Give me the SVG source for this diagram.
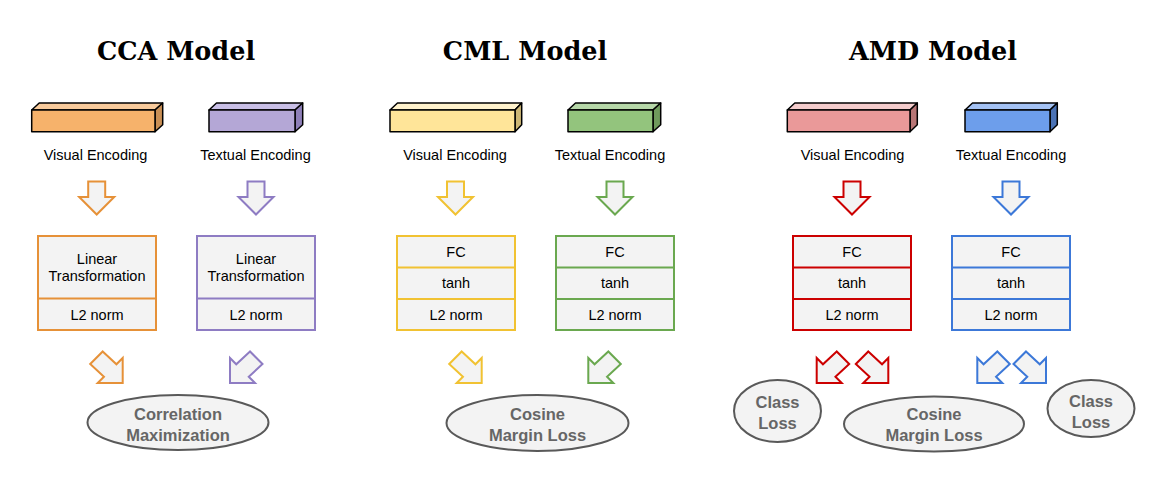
<svg xmlns="http://www.w3.org/2000/svg" xmlns:xlink="http://www.w3.org/1999/xlink" width="1154" height="493" viewBox="0 0 1154 493">
<style>
.title{font-family:"DejaVu Serif",serif;font-weight:bold;font-size:25.5px;fill:#000;text-anchor:middle}
.lbl{font-family:"Liberation Sans",Arial,sans-serif;font-size:14.5px;fill:#000;text-anchor:middle}
.loss{font-family:"Liberation Sans",Arial,sans-serif;font-size:16.5px;font-weight:bold;fill:#666;text-anchor:middle}
.bar{stroke:#000;stroke-width:1.5;stroke-linejoin:round}
.box{fill:#f3f3f3;stroke-width:2}
.arr{fill:#f3f3f3;stroke-width:2;stroke-linejoin:miter}
.ell{fill:#f3f3f3;stroke:#595959;stroke-width:2}
.or{stroke:#e69138}.pu{stroke:#8e7cc3}.ye{stroke:#f1c232}.gr{stroke:#6aa84f}.re{stroke:#cc0000}.bl{stroke:#3c78d8}
</style>
<defs>
<path id="down" d="M-8.5,-33 L8.5,-33 L8.5,-17.5 L17.5,-17.5 L0,0 L-17.5,-17.5 L-8.5,-17.5 Z"/>
<path id="diag" d="M-20,-31.5 L-6.25,-18.75 L0,-25 L0,0 L-25,0 L-18.75,-6.25 L-32.5,-19 Z"/>
</defs>

<text class="title" x="176" y="60">CCA Model</text>
<text class="title" x="525" y="60">CML Model</text>
<text class="title" x="933" y="60">AMD Model</text>

<!-- CCA -->
<g id="cca-visual-enc">
<path class="bar" fill="#f9cb9c" d="M31.7,110 L39.2,103 L162.7,103 L155,110 Z"/>
<path class="bar" fill="#c98f55" d="M155,110 L162.7,103 L162.7,124.7 L155,131.7 Z"/>
<rect class="bar" fill="#f6b26b" x="31.7" y="110" width="123.3" height="21.7"/>
<text class="lbl" x="95.5" y="160">Visual Encoding</text>
</g>
<g id="cca-textual-enc">
<path class="bar" fill="#c9bfe6" d="M209,110 L216.5,103 L302.7,103 L295,110 Z"/>
<path class="bar" fill="#8e7fb8" d="M295,110 L302.7,103 L302.7,124.7 L295,131.7 Z"/>
<rect class="bar" fill="#b4a7d6" x="209" y="110" width="86" height="21.7"/>
<text class="lbl" x="255.5" y="160">Textual Encoding</text>
</g>
<g id="cca-visual-net">
<rect class="box or" x="38" y="236" width="118" height="94"/>
<line class="or" stroke-width="2" x1="38" y1="298.5" x2="156" y2="298.5"/>
<text class="lbl" x="97" y="264">Linear</text>
<text class="lbl" x="97" y="281">Transformation</text>
<text class="lbl" x="97" y="320">L2 norm</text>
</g>
<g id="cca-textual-net">
<rect class="box pu" x="197" y="236" width="118" height="94"/>
<line class="pu" stroke-width="2" x1="197" y1="298.5" x2="315" y2="298.5"/>
<text class="lbl" x="256" y="264">Linear</text>
<text class="lbl" x="256" y="281">Transformation</text>
<text class="lbl" x="256" y="320">L2 norm</text>
</g>
<g id="cca-loss">
<ellipse class="ell" cx="178" cy="422.5" rx="90.5" ry="27.5"/>
<text class="loss" x="178" y="420">Correlation</text>
<text class="loss" x="178" y="441">Maximization</text>
</g>

<!-- CML -->
<g id="cml-visual-enc">
<path class="bar" fill="#fff2cc" d="M390,110 L397.5,103 L521.7,103 L515,110 Z"/>
<path class="bar" fill="#cdb775" d="M515,110 L521.7,103 L521.7,124.7 L515,131.7 Z"/>
<rect class="bar" fill="#ffe599" x="390" y="110" width="125" height="21.7"/>
<text class="lbl" x="455" y="160">Visual Encoding</text>
</g>
<g id="cml-textual-enc">
<path class="bar" fill="#b6d7a8" d="M568,110 L575.5,103 L660.7,103 L653,110 Z"/>
<path class="bar" fill="#6f9a5c" d="M653,110 L660.7,103 L660.7,124.7 L653,131.7 Z"/>
<rect class="bar" fill="#93c47d" x="568" y="110" width="85" height="21.7"/>
<text class="lbl" x="610" y="160">Textual Encoding</text>
</g>
<g id="cml-visual-net">
<rect class="box ye" x="397" y="236" width="118" height="94"/>
<line class="ye" stroke-width="2" x1="397" y1="267.5" x2="515" y2="267.5"/>
<line class="ye" stroke-width="2" x1="397" y1="299" x2="515" y2="299"/>
<text class="lbl" x="456" y="257">FC</text>
<text class="lbl" x="456" y="288">tanh</text>
<text class="lbl" x="456" y="320">L2 norm</text>
</g>
<g id="cml-textual-net">
<rect class="box gr" x="556" y="236" width="118" height="94"/>
<line class="gr" stroke-width="2" x1="556" y1="267.5" x2="674" y2="267.5"/>
<line class="gr" stroke-width="2" x1="556" y1="299" x2="674" y2="299"/>
<text class="lbl" x="615" y="257">FC</text>
<text class="lbl" x="615" y="288">tanh</text>
<text class="lbl" x="615" y="320">L2 norm</text>
</g>
<g id="cml-loss">
<ellipse class="ell" cx="537.5" cy="423" rx="91" ry="28"/>
<text class="loss" x="537.5" y="420">Cosine</text>
<text class="loss" x="537.5" y="441">Margin Loss</text>
</g>

<!-- AMD -->
<g id="amd-visual-enc">
<path class="bar" fill="#f4cccc" d="M787.3,110 L794.8,103 L917.3,103 L910,110 Z"/>
<path class="bar" fill="#b87575" d="M910,110 L917.3,103 L917.3,124.7 L910,131.7 Z"/>
<rect class="bar" fill="#ea9999" x="787.3" y="110" width="122.7" height="21.7"/>
<text class="lbl" x="852.5" y="160">Visual Encoding</text>
</g>
<g id="amd-textual-enc">
<path class="bar" fill="#a4c2f4" d="M965,110 L972.5,103 L1057.3,103 L1050,110 Z"/>
<path class="bar" fill="#4a72b5" d="M1050,110 L1057.3,103 L1057.3,124.7 L1050,131.7 Z"/>
<rect class="bar" fill="#6d9eeb" x="965" y="110" width="85" height="21.7"/>
<text class="lbl" x="1011" y="160">Textual Encoding</text>
</g>
<g id="amd-visual-net">
<rect class="box re" x="793" y="236" width="118" height="94"/>
<line class="re" stroke-width="2" x1="793" y1="267.5" x2="911" y2="267.5"/>
<line class="re" stroke-width="2" x1="793" y1="299" x2="911" y2="299"/>
<text class="lbl" x="852" y="257">FC</text>
<text class="lbl" x="852" y="288">tanh</text>
<text class="lbl" x="852" y="320">L2 norm</text>
</g>
<g id="amd-textual-net">
<rect class="box bl" x="952" y="236" width="118" height="94"/>
<line class="bl" stroke-width="2" x1="952" y1="267.5" x2="1070" y2="267.5"/>
<line class="bl" stroke-width="2" x1="952" y1="299" x2="1070" y2="299"/>
<text class="lbl" x="1011" y="257">FC</text>
<text class="lbl" x="1011" y="288">tanh</text>
<text class="lbl" x="1011" y="320">L2 norm</text>
</g>
<g id="amd-class-loss-v">
<ellipse class="ell" cx="777.5" cy="411" rx="43.5" ry="31"/>
<text class="loss" x="777.5" y="408">Class</text>
<text class="loss" x="777.5" y="429">Loss</text>
</g>
<g id="amd-cosine-loss">
<ellipse class="ell" cx="934" cy="424" rx="90" ry="27.5"/>
<text class="loss" x="934" y="420">Cosine</text>
<text class="loss" x="934" y="441">Margin Loss</text>
</g>
<g id="amd-class-loss-t">
<ellipse class="ell" cx="1091" cy="408.5" rx="43.5" ry="28.5"/>
<text class="loss" x="1091" y="407">Class</text>
<text class="loss" x="1091" y="428">Loss</text>
</g>

<g id="connectors">
<use xlink:href="#down" class="arr or" transform="translate(96.7,214.5)"/>
<use xlink:href="#down" class="arr pu" transform="translate(256,214.5)"/>
<use xlink:href="#down" class="arr ye" transform="translate(455.5,214.5)"/>
<use xlink:href="#down" class="arr gr" transform="translate(615,214.5)"/>
<use xlink:href="#down" class="arr re" transform="translate(852,214.5)"/>
<use xlink:href="#down" class="arr bl" transform="translate(1011,214.5)"/>
<use xlink:href="#diag" class="arr or" transform="translate(122.7,383)"/>
<use xlink:href="#diag" class="arr pu" transform="translate(230,383) scale(-1,1)"/>
<use xlink:href="#diag" class="arr ye" transform="translate(481.7,383)"/>
<use xlink:href="#diag" class="arr gr" transform="translate(588.3,383) scale(-1,1)"/>
<use xlink:href="#diag" class="arr re" transform="translate(816.7,383) scale(-1,1)"/>
<use xlink:href="#diag" class="arr re" transform="translate(888.3,383)"/>
<use xlink:href="#diag" class="arr bl" transform="translate(977.3,383) scale(-1,1)"/>
<use xlink:href="#diag" class="arr bl" transform="translate(1046,383)"/>
</g>
</svg>
